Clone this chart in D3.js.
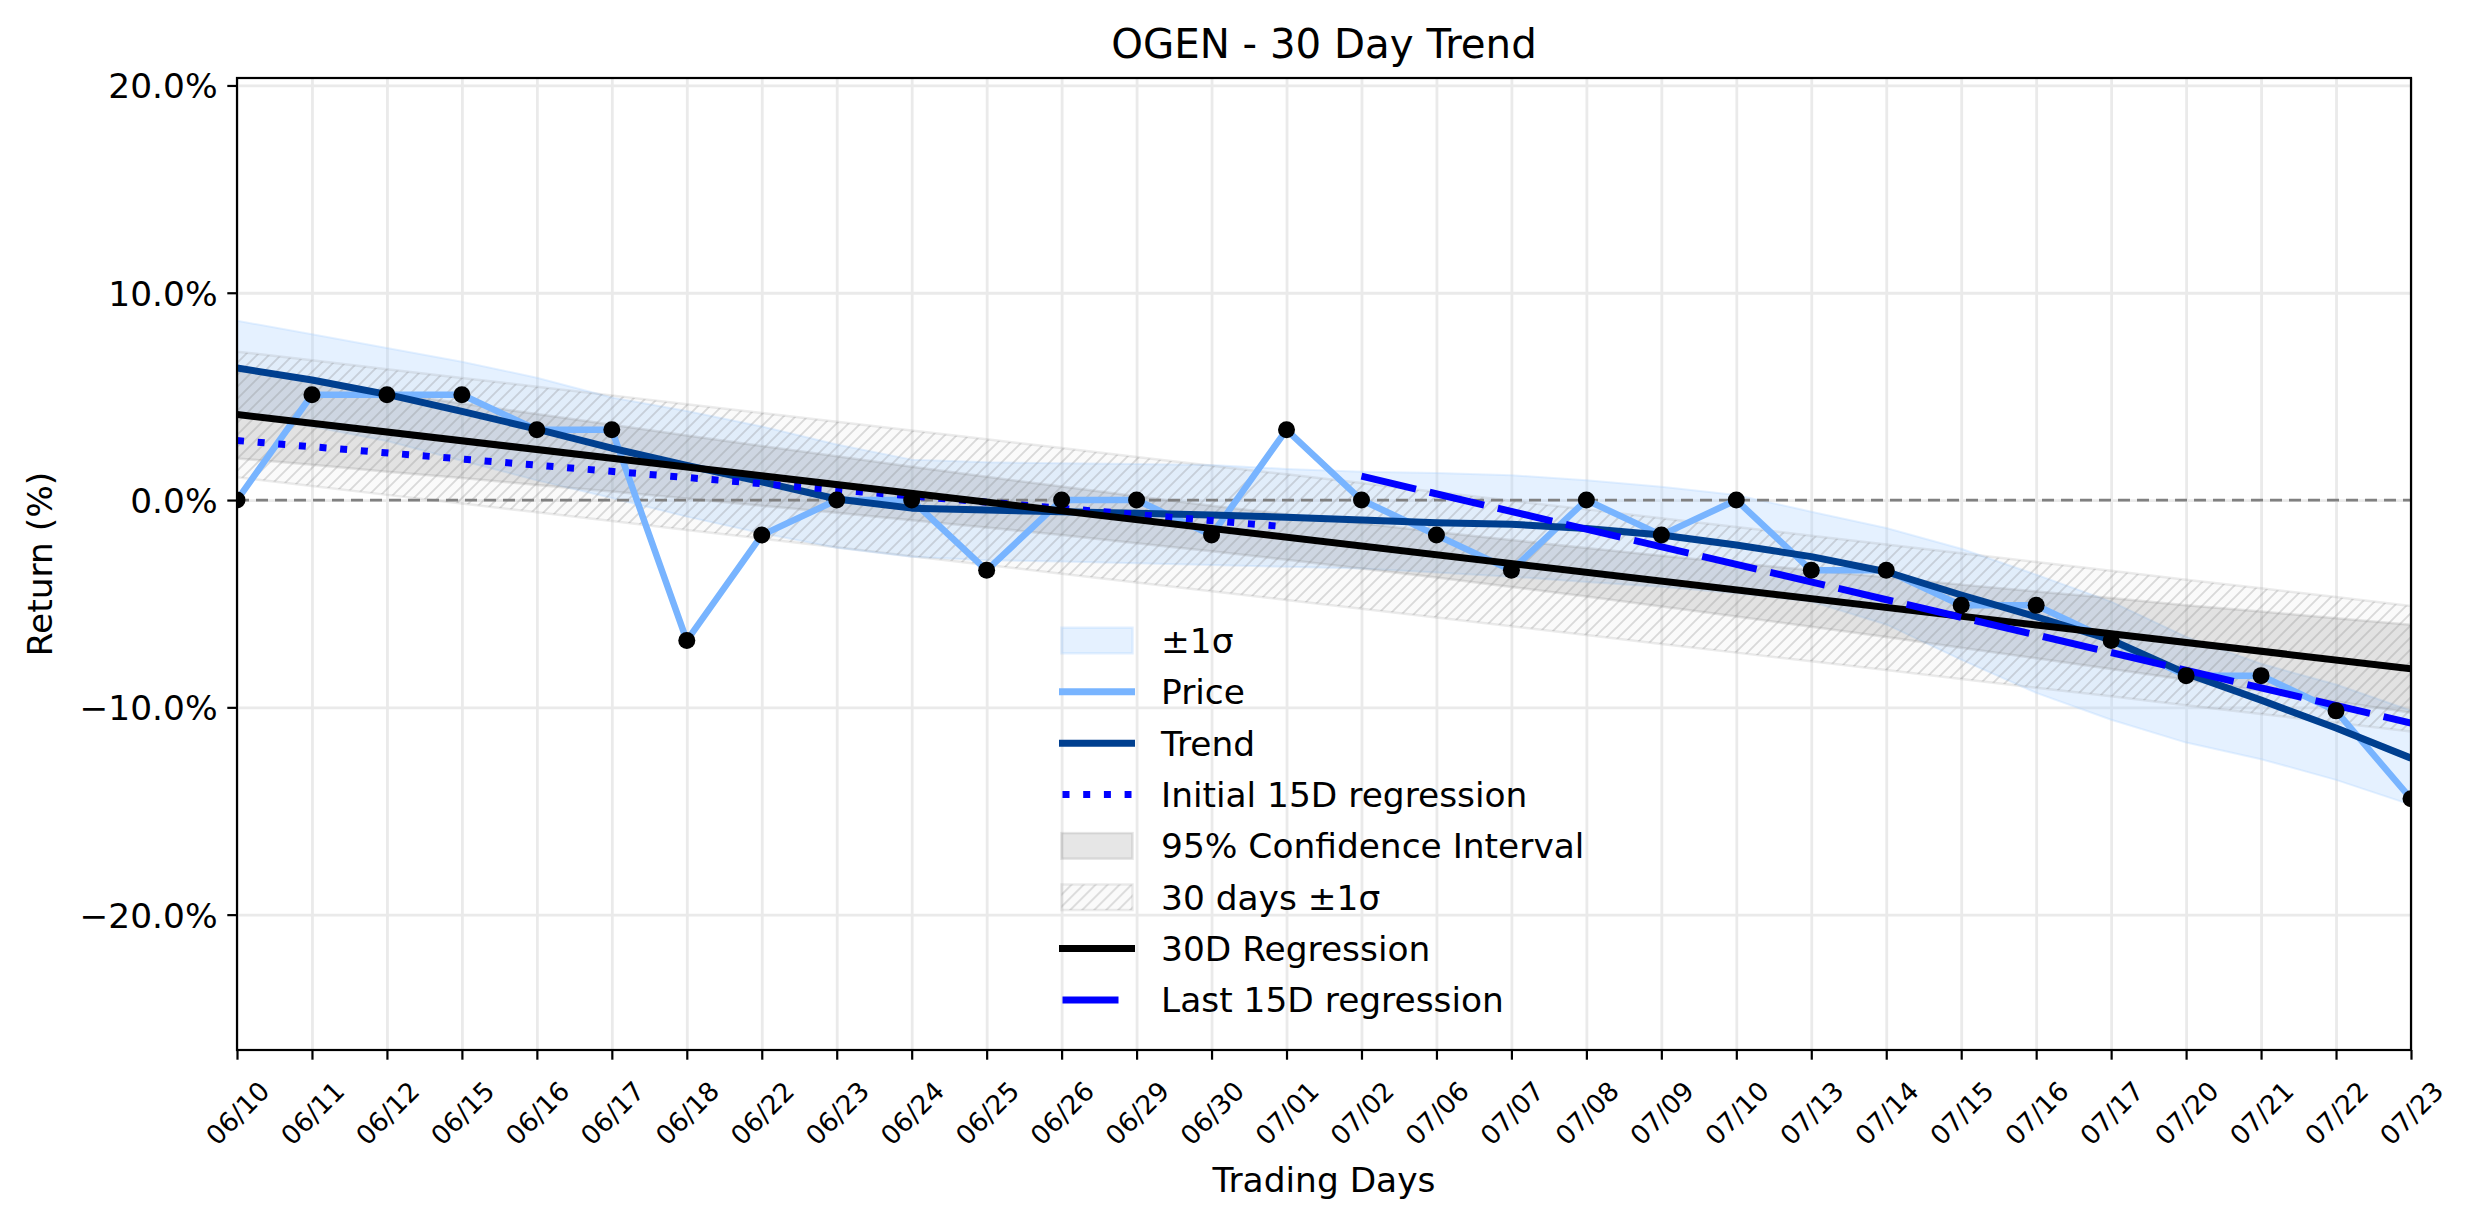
<!DOCTYPE html>
<html>
<head>
<meta charset="utf-8">
<script src="https://cdn.jsdelivr.net/npm/d3@7"></script>
<style>
  body { margin: 0; background: #fff; }
  text { font-family: "DejaVu Sans", sans-serif; fill: #000; }
</style>
</head>
<body>
<svg id="chart"></svg>
<script>
// trading days shown on the x axis
const days = ['06/10', '06/11', '06/12', '06/15', '06/16', '06/17', '06/18', '06/22', '06/23', '06/24',
  '06/25', '06/26', '06/29', '06/30', '07/01', '07/02', '07/06', '07/07', '07/08', '07/09',
  '07/10', '07/13', '07/14', '07/15', '07/16', '07/17', '07/20', '07/21', '07/22', '07/23']

// cumulative return (%)
const price = [0, 5.08, 5.08, 5.08, 3.39, 3.39, -6.78, -1.69, 0, 0,
  -3.39, 0, 0, -1.69, 3.39, 0, -1.69, -3.39, 0, -1.69,
  0, -3.39, -3.39, -5.08, -5.08, -6.78, -8.47, -8.47, -10.17, -14.41]

const trend = [6.37, 5.79, 5.10, 4.28, 3.42, 2.50, 1.67, 0.88, 0.05, -0.39,
  -0.48, -0.56, -0.64, -0.72, -0.83, -0.96, -1.09, -1.17, -1.37, -1.69,
  -2.17, -2.73, -3.46, -4.58, -5.63, -6.75, -8.36, -9.65, -11.00, -12.45]

// +-1 sigma band around the trend
const sigmaUpper = [8.65, 8.00, 7.33, 6.67, 5.90, 4.95, 4.30, 3.55, 2.68, 1.95,
  1.82, 1.78, 1.74, 1.69, 1.50, 1.37, 1.30, 1.20, 0.95, 0.64,
  0.24, -0.56, -1.35, -2.35, -3.60, -4.90, -6.60, -7.90, -8.90, -10.15]
const sigmaLower = [4.09, 3.55, 2.85, 1.90, 0.95, 0.10, -0.80, -1.60, -2.30, -2.73,
  -2.90, -2.97, -3.05, -3.13, -3.22, -3.30, -3.50, -3.70, -3.95, -4.18,
  -4.50, -4.90, -6.00, -7.70, -9.30, -10.60, -11.70, -12.50, -13.50, -14.70]

// 30 day regression, its 95% CI half width and residual sigma
const reg30 = [4.13, 3.71, 3.28, 2.86, 2.44, 2.02, 1.59, 1.17, 0.75, 0.32,
  -0.10, -0.52, -0.95, -1.37, -1.79, -2.21, -2.64, -3.06, -3.48, -3.91,
  -4.33, -4.75, -5.17, -5.60, -6.02, -6.44, -6.87, -7.29, -7.71, -8.14]
const ci30Half = [2.12, 2.01, 1.91, 1.80, 1.71, 1.61, 1.52, 1.44, 1.36, 1.29,
  1.22, 1.17, 1.13, 1.10, 1.09, 1.09, 1.10, 1.13, 1.17, 1.22,
  1.29, 1.36, 1.44, 1.52, 1.61, 1.71, 1.80, 1.91, 2.01, 2.12]
const sigma30 = 3.03

// 15 day regressions (start / end)
const initial15Days = ['06/10', '07/01']
const initial15Values = [2.87, -1.29]
const last15Days = ['07/02', '07/23']
const last15Values = [1.15, -10.76]

const yTicks = [20, 10, 0, -10, -20]

const width = 2474, height = 1224
const margin = {top: 78, right: 63, bottom: 174, left: 237}
const innerW = width - margin.left - margin.right
const innerH = height - margin.top - margin.bottom

const priceColor = '#78b4ff'
const trendColor = '#003f8f'
const regBlue = '#0000ff'
const fontSize = 34.4

const svg = d3.select('#chart')
  .attr('width', width)
  .attr('height', height)

svg.append('rect').attr('width', width).attr('height', height).attr('fill', '#fff')

const x = d3.scalePoint()
  .domain(days)
  .range([margin.left, width - margin.right])
const y = d3.scaleLinear()
  .domain([-26.53, 20.36])
  .range([height - margin.bottom, margin.top])

const defs = svg.append('defs')
defs.append('clipPath').attr('id', 'plot-clip')
  .append('rect')
  .attr('x', margin.left).attr('y', margin.top)
  .attr('width', innerW).attr('height', innerH)

const hs = 12
const hatch = defs.append('pattern')
  .attr('id', 'hatch')
  .attr('patternUnits', 'userSpaceOnUse')
  .attr('width', hs).attr('height', hs)
hatch.append('rect').attr('width', hs).attr('height', hs)
  .attr('fill', '#808080').attr('fill-opacity', 0.04)
hatch.append('path')
  .attr('d', `M0,${hs} L${hs},0 M-2,2 L2,-2 M${hs - 2},${hs + 2} L${hs + 2},${hs - 2}`)
  .attr('stroke', '#808080')
  .attr('stroke-opacity', 0.28)
  .attr('stroke-width', 1.8)

// grid
const grid = svg.append('g')
grid.append('g')
  .attr('transform', `translate(0, ${height - margin.bottom})`)
  .call(d3.axisBottom(x).tickSize(-innerH).tickFormat(''))
  .call(g => g.select('.domain').remove())
grid.append('g')
  .attr('transform', `translate(${margin.left}, 0)`)
  .call(d3.axisLeft(y).tickValues(yTicks).tickSize(-innerW).tickFormat(''))
  .call(g => g.select('.domain').remove())
grid.selectAll('line').attr('stroke', '#eaeaea').attr('stroke-width', 2.8)

const plot = svg.append('g').attr('clip-path', 'url(#plot-clip)')

const band = (lo, hi) => d3.area()
  .x((d, i) => x(days[i]))
  .y0((d, i) => y(lo(i)))
  .y1((d, i) => y(hi(i)))

// +-1 sigma
plot.append('path')
  .attr('d', band(i => sigmaLower[i], i => sigmaUpper[i])(days))
  .attr('fill', '#a8d1ff').attr('fill-opacity', 0.3)
  .attr('stroke', '#a8d1ff').attr('stroke-opacity', 0.3).attr('stroke-width', 2)

// 95% confidence interval
plot.append('path')
  .attr('d', band(i => reg30[i] - ci30Half[i], i => reg30[i] + ci30Half[i])(days))
  .attr('fill', '#808080').attr('fill-opacity', 0.2)
  .attr('stroke', '#808080').attr('stroke-opacity', 0.2).attr('stroke-width', 2.5)

// 30 days +-1 sigma (hatched)
plot.append('path')
  .attr('d', band(i => reg30[i] - sigma30, i => reg30[i] + sigma30)(days))
  .attr('fill', 'url(#hatch)')
  .attr('stroke', '#808080').attr('stroke-opacity', 0.15).attr('stroke-width', 2.5)

// zero line
plot.append('line')
  .attr('x1', margin.left).attr('x2', width - margin.right)
  .attr('y1', y(0)).attr('y2', y(0))
  .attr('stroke', '#808080').attr('stroke-width', 2.8)
  .attr('stroke-dasharray', '12,7')

const line = d3.line()
  .x(d => x(d.day))
  .y(d => y(d.value))
const series = vals => vals.map((v, i) => ({day: days[i], value: v}))

plot.append('path')
  .attr('d', line(series(price)))
  .attr('fill', 'none').attr('stroke', priceColor).attr('stroke-width', 6.5)
  .attr('stroke-linejoin', 'round')

plot.append('path')
  .attr('d', line(series(trend)))
  .attr('fill', 'none').attr('stroke', trendColor).attr('stroke-width', 7)
  .attr('stroke-linejoin', 'round')

plot.append('path')
  .attr('d', line(initial15Days.map((d, i) => ({day: d, value: initial15Values[i]}))))
  .attr('fill', 'none').attr('stroke', regBlue).attr('stroke-width', 7)
  .attr('stroke-dasharray', '7,13.7')

plot.append('path')
  .attr('d', line([{day: days[0], value: reg30[0]}, {day: days[days.length - 1], value: reg30[reg30.length - 1]}]))
  .attr('fill', 'none').attr('stroke', '#000').attr('stroke-width', 7)

plot.append('path')
  .attr('d', line(last15Days.map((d, i) => ({day: d, value: last15Values[i]}))))
  .attr('fill', 'none').attr('stroke', regBlue).attr('stroke-width', 7)
  .attr('stroke-dasharray', '56,14')

plot.selectAll('.dot')
  .data(series(price))
  .enter().append('circle')
    .attr('class', 'dot')
    .attr('cx', d => x(d.day))
    .attr('cy', d => y(d.value))
    .attr('r', 8.5)
    .attr('fill', '#000')

// axes
const yAxis = svg.append('g')
  .attr('transform', `translate(${margin.left}, 0)`)
  .call(d3.axisLeft(y).tickValues(yTicks).tickSize(9.7).tickPadding(9.7).tickSizeOuter(0)
    .tickFormat(d => (d < 0 ? '\u2212' : '') + Math.abs(d).toFixed(1) + '%'))
yAxis.select('.domain').remove()
yAxis.selectAll('line').attr('stroke', '#000').attr('stroke-width', 2.2)
yAxis.selectAll('text')
  .attr('font-size', fontSize)
  .attr('font-family', 'DejaVu Sans')
  .attr('dy', '0.36em')

const xAxis = svg.append('g')
  .attr('transform', `translate(0, ${height - margin.bottom})`)
  .call(d3.axisBottom(x).tickSize(9.7).tickSizeOuter(0))
xAxis.select('.domain').remove()
xAxis.selectAll('line').attr('stroke', '#000').attr('stroke-width', 2.2)
xAxis.selectAll('text')
  .attr('y', null)
  .attr('dy', '0.36em')
  .attr('font-size', 26.5)
  .attr('font-family', 'DejaVu Sans')
  .attr('text-anchor', 'middle')
  .attr('transform', 'translate(0, 63) rotate(-45)')

svg.append('rect')
  .attr('x', margin.left).attr('y', margin.top)
  .attr('width', innerW).attr('height', innerH)
  .attr('fill', 'none').attr('stroke', '#000').attr('stroke-width', 2.2)

// titles
svg.append('text')
  .attr('x', margin.left + innerW / 2).attr('y', 58)
  .attr('text-anchor', 'middle').attr('font-size', 40.3)
  .text('OGEN - 30 Day Trend')
svg.append('text')
  .attr('x', margin.left + innerW / 2).attr('y', 1192)
  .attr('text-anchor', 'middle').attr('font-size', fontSize)
  .text('Trading Days')
svg.append('text')
  .attr('transform', `translate(52, ${margin.top + innerH / 2}) rotate(-90)`)
  .attr('text-anchor', 'middle').attr('font-size', fontSize)
  .text('Return (%)')

// legend
const legendItems = [
  {label: '\u00b11\u03c3', kind: 'patch', fill: '#a8d1ff', fillOpacity: 0.3, stroke: '#a8d1ff', strokeOpacity: 0.3},
  {label: 'Price', kind: 'line', color: priceColor, dash: null},
  {label: 'Trend', kind: 'line', color: trendColor, dash: null},
  {label: 'Initial 15D regression', kind: 'line', color: regBlue, dash: '7,13.7'},
  {label: '95% Confidence Interval', kind: 'patch', fill: '#808080', fillOpacity: 0.2, stroke: '#808080', strokeOpacity: 0.2},
  {label: '30 days \u00b11\u03c3', kind: 'patch', fill: 'url(#hatch)', fillOpacity: 1, stroke: '#808080', strokeOpacity: 0.15},
  {label: '30D Regression', kind: 'line', color: '#000', dash: null},
  {label: 'Last 15D regression', kind: 'line', color: regBlue, dash: '56,14'}
]
const legend = svg.append('g').attr('transform', 'translate(1059, 640.5)')
const rows = legend.selectAll('.row')
  .data(legendItems)
  .enter().append('g')
    .attr('class', 'row')
    .attr('transform', (d, i) => `translate(0, ${i * 51.35})`)
rows.filter(d => d.kind === 'patch').append('rect')
  .attr('x', 2.5).attr('y', -12.8).attr('width', 71).attr('height', 25.6)
  .attr('fill', d => d.fill).attr('fill-opacity', d => d.fillOpacity)
  .attr('stroke', d => d.stroke).attr('stroke-opacity', d => d.strokeOpacity).attr('stroke-width', 2.5)
rows.filter(d => d.kind === 'line').append('line')
  .attr('x1', 3.5).attr('x2', 72.5).attr('y1', 0).attr('y2', 0)
  .attr('stroke', d => d.color).attr('stroke-width', 7)
  .attr('stroke-linecap', d => d.dash ? 'butt' : 'square')
  .attr('stroke-dasharray', d => d.dash)
rows.append('text')
  .attr('x', 102).attr('dy', '0.36em')
  .attr('font-size', fontSize)
  .text(d => d.label)
</script>
</body>
</html>
